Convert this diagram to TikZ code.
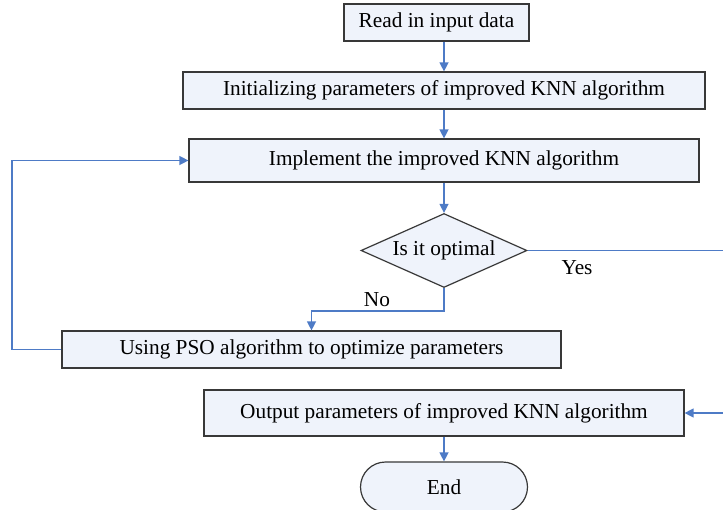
\documentclass[tikz,border=0pt]{standalone}
\usepackage{fontspec}
\setmainfont{Liberation Serif}
\usetikzlibrary{shapes.geometric,shapes.misc,arrows.meta}
\definecolor{boxfill}{HTML}{EFF3FB}
\definecolor{boxline}{HTML}{383838}
\definecolor{flowblue}{HTML}{4E7BC6}
\begin{document}
\begin{tikzpicture}[x=1pt,y=-1pt,>={Triangle[length=9pt,width=9pt]},
	every node/.style={font=\fontsize{21.3}{25}\selectfont},
	proc/.style={draw=boxline,fill=boxfill,line width=1.2pt,inner sep=0pt,minimum height=37pt},
	decide/.style={diamond,aspect=2.24,draw=boxline,fill=boxfill,line width=1.2pt,inner sep=0pt,minimum width=166pt,minimum height=74pt},
	term/.style={rounded rectangle,draw=boxline,fill=boxfill,line width=1.2pt,inner sep=0pt,minimum width=167pt,minimum height=50pt},
	flow/.style={->,draw=flowblue,line width=1.3pt}]
	\clip (0,0) rectangle (723,509);
	% steps
	\node[proc,minimum width=185pt] (read) at (436.5,22.5) {Read in input data};
	\node[proc,minimum width=522pt] (init) at (444,90.5) {Initializing parameters of improved KNN algorithm};
	\node[proc,minimum width=510pt,minimum height=43pt] (impl) at (444,160.5) {Implement the improved KNN algorithm};
	\node[decide] (opt) at (444,250.5) {Is it optimal};
	\node[proc,minimum width=499pt] (pso) at (311.5,349.5) {Using PSO algorithm to optimize parameters};
	\node[proc,minimum width=480pt,minimum height=46pt] (out) at (444,413) {Output parameters of improved KNN algorithm};
	\node[term] (endn) at (444,487) {End};
	\node (yeslbl) at (577,268) {Yes};
	\node (nolbl) at (377,300) {No};
	% bends
	\coordinate (yesturn) at (726,250.5);
	\coordinate (nobend) at (444,311);
	\coordinate (loopturn) at (12,349.5);
	% connectors
	\draw[flow] (read.south -| init.north) -- (init.north);
	\draw[flow] (init.south) -- (impl.north);
	\draw[flow] (impl.south) -- (opt.north);
	\draw[flow] (opt.east) -- (yesturn) |- (out.east);
	\draw[flow] (opt.south) -- (nobend) -| (pso.north);
	\draw[flow] (pso.west) -- (loopturn) |- (impl.west);
	\draw[flow] (out.south) -- (endn.north);
\end{tikzpicture}
\end{document}
